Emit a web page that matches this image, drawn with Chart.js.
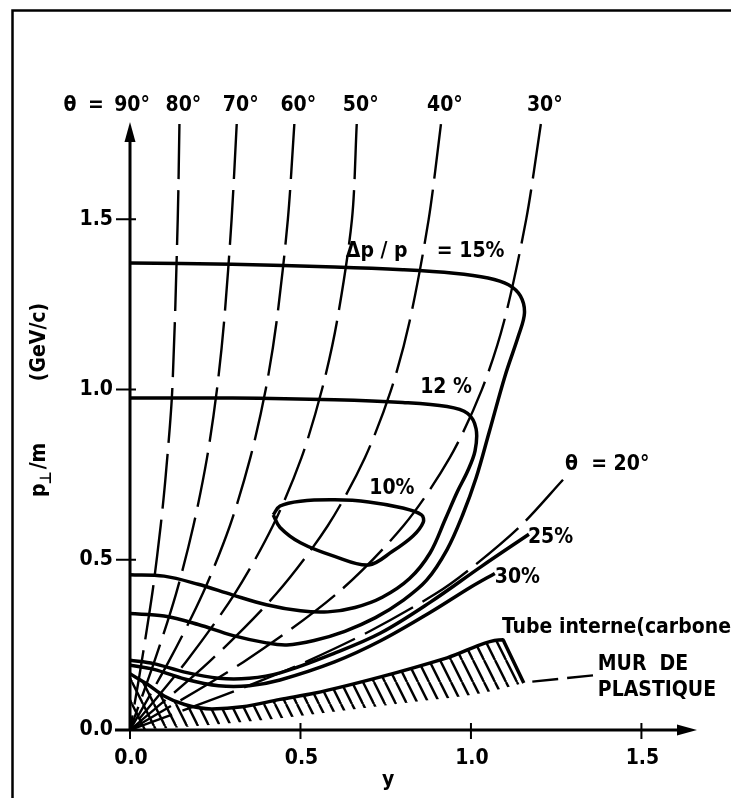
<!DOCTYPE html>
<html>
<head>
<meta charset="utf-8">
<script src="https://cdn.jsdelivr.net/npm/chart.js@4/dist/chart.umd.min.js"></script>
<style>
  html, body { margin: 0; padding: 0; background: #fff; }
  canvas { display: block; }
</style>
</head>
<body>
<canvas id="chart" width="731" height="798"></canvas>
<script>
// axis ticks
const xTicks = [0, 0.5, 1.0, 1.5];
const yTicks = [0, 0.5, 1.0, 1.5];
const tickLabels = ['0.0', '0.5', '1.0', '1.5'];

// lines of constant polar angle, [y, pT/m]
const thetaNames = ['80°', '70°', '60°', '50°', '40°', '30°'];
const theta80 = [[0.145,1.78],[0.14,1.5],[0.124,1.0],[0.105,0.75],[0.09,0.6],[0.068,0.42],[0.05,0.3],[0.026,0.15],[0,0]];
const theta70 = [[0.313,1.78],[0.298,1.5],[0.276,1.2],[0.255,1.0],[0.226,0.8],[0.186,0.6],[0.135,0.4],[0.071,0.2],[0,0]];
const theta60 = [[0.482,1.78],[0.463,1.5],[0.43,1.2],[0.398,1.0],[0.353,0.8],[0.293,0.6],[0.213,0.4],[0.113,0.2],[0,0]];
const theta50 = [[0.665,1.78],[0.651,1.5],[0.607,1.2],[0.563,1.0],[0.503,0.8],[0.419,0.6],[0.307,0.4],[0.164,0.2],[0,0]];
const theta40 = [[0.912,1.78],[0.876,1.5],[0.82,1.2],[0.766,1.0],[0.689,0.8],[0.58,0.6],[0.429,0.4],[0.232,0.2],[0,0]];
const theta30 = [[1.205,1.78],[1.162,1.5],[1.097,1.2],[1.032,1.0],[0.938,0.8],[0.802,0.6],[0.606,0.4],[0.333,0.2],[0,0]];
const theta20 = [[1.27,0.735],[1.146,0.6],[1.0,0.475],[0.896,0.4],[0.703,0.29],[0.516,0.2],[0.397,0.15],[0.27,0.1],[0,0]];

// momentum resolution contours dp/p
const res15 = [[0,1.372],[0.3,1.368],[0.6,1.36],[0.8,1.352],[0.95,1.342],[1.05,1.328],[1.11,1.308],[1.145,1.275],[1.157,1.225],[1.14,1.16],[1.1,1.04],[1.053,0.873],[1.015,0.74],[0.975,0.63],[0.93,0.53],[0.87,0.44],[0.8,0.38],[0.72,0.33],[0.63,0.29],[0.54,0.263],[0.46,0.25],[0.4,0.256],[0.3,0.278],[0.2,0.31],[0.1,0.335],[0,0.342]];
const res12 = [[0,0.975],[0.3,0.975],[0.6,0.97],[0.8,0.962],[0.93,0.95],[0.99,0.93],[1.015,0.885],[1.012,0.82],[0.99,0.76],[0.96,0.7],[0.925,0.62],[0.88,0.52],[0.82,0.445],[0.74,0.39],[0.66,0.36],[0.58,0.347],[0.5,0.35],[0.4,0.368],[0.3,0.397],[0.2,0.428],[0.1,0.452],[0,0.456]];
const res10 = [[0.42,0.632],[0.44,0.658],[0.5,0.672],[0.6,0.676],[0.7,0.67],[0.8,0.652],[0.855,0.632],[0.86,0.61],[0.83,0.57],[0.77,0.525],[0.7,0.485],[0.6,0.51],[0.5,0.55],[0.44,0.595],[0.42,0.632]];
const res25 = [[0,0.205],[0.07,0.195],[0.16,0.17],[0.26,0.152],[0.35,0.152],[0.44,0.168],[0.6,0.226],[0.735,0.285],[0.88,0.375],[1.03,0.48],[1.17,0.575]];
const res30 = [[0,0.19],[0.07,0.178],[0.16,0.15],[0.26,0.13],[0.35,0.13],[0.44,0.147],[0.6,0.2],[0.735,0.262],[0.88,0.345],[1.0,0.42],[1.07,0.46]];

// inner carbon tube limit (hatched band) and plastic wall pointer
const tubeTop = [[0,0.165],[0.05,0.135],[0.1,0.1],[0.16,0.075],[0.24,0.062],[0.33,0.068],[0.44,0.09],[0.54,0.108],[0.735,0.156],[0.93,0.212],[1.094,0.265],[1.098,0.257],[1.155,0.138]];
const tubeBottom = [[0,0],[0.2,0.012],[0.4,0.03],[0.64,0.059],[0.83,0.082],[1.03,0.108],[1.155,0.138]];
const murLeader = [[1.18,0.142],[1.373,0.162]];

const FONT = '"DejaVu Sans Condensed", "Liberation Sans Narrow", "DejaVu Sans", sans-serif';
const pts = arr => arr.map(p => ({x: p[0], y: p[1]}));

function hatchPattern() {
  const w = 11, h = 22;
  const c = document.createElement('canvas');
  c.width = w; c.height = h;
  const g = c.getContext('2d');
  g.strokeStyle = '#000';
  g.lineWidth = 2.4;
  for (const off of [-w, 0, w]) {
    g.beginPath();
    g.moveTo(off, 0);
    g.lineTo(off + w, h);
    g.stroke();
  }
  return g.createPattern(c, 'repeat');
}

const solid = (data, extra) => Object.assign({
  data: pts(data), borderColor: '#000', borderWidth: 3.5, tension: 0.35,
  pointRadius: 0, fill: false
}, extra || {});
const dashed = data => solid(data, {borderWidth: 2.4, borderDash: [55, 11], tension: 0.3});

const datasets = [
  solid(tubeTop, {fill: '+1', backgroundColor: hatchPattern(), cubicInterpolationMode: 'monotone'}),
  solid(tubeBottom, {borderWidth: 0, cubicInterpolationMode: 'monotone'}),
  dashed(theta80), dashed(theta70), dashed(theta60), dashed(theta50),
  dashed(theta40), dashed(theta30), dashed(theta20),
  solid(murLeader, {borderWidth: 2.4, borderDash: [26, 9], tension: 0}),
  solid(res15), solid(res12), solid(res10),
  solid(res25), solid(res30)
];

const thetaTops = [theta80, theta70, theta60, theta50, theta40, theta30];

const decor = {
  id: 'decor',
  beforeDraw(chart) {
    const ctx = chart.ctx;
    ctx.save();
    ctx.fillStyle = '#fff';
    ctx.fillRect(0, 0, chart.width, chart.height);
    ctx.restore();
  },
  afterDatasetsDraw(chart) {
    const ctx = chart.ctx;
    const sx = chart.scales.x, sy = chart.scales.y;
    const X = v => sx.getPixelForValue(v), Y = v => sy.getPixelForValue(v);
    const x0 = X(0), y0 = Y(0);
    const xEnd = chart.chartArea.right, yEnd = chart.chartArea.top;

    ctx.save();
    ctx.strokeStyle = '#000';
    ctx.fillStyle = '#000';
    ctx.lineCap = 'butt';

    // frame
    ctx.lineWidth = 2.5;
    ctx.beginPath();
    ctx.moveTo(12.5, chart.height);
    ctx.lineTo(12.5, 10.5);
    ctx.lineTo(chart.width, 10.5);
    ctx.stroke();

    // axes with arrows
    ctx.lineWidth = 3;
    ctx.beginPath();
    ctx.moveTo(x0, y0);
    ctx.lineTo(x0, yEnd + 14);
    ctx.moveTo(x0 - 15, y0);
    ctx.lineTo(xEnd - 16, y0);
    ctx.stroke();
    ctx.beginPath();
    ctx.moveTo(x0, yEnd);
    ctx.lineTo(x0 - 5.5, yEnd + 20);
    ctx.lineTo(x0 + 5.5, yEnd + 20);
    ctx.closePath();
    ctx.fill();
    ctx.beginPath();
    ctx.moveTo(xEnd, y0);
    ctx.lineTo(xEnd - 20, y0 - 5.5);
    ctx.lineTo(xEnd - 20, y0 + 5.5);
    ctx.closePath();
    ctx.fill();

    // ticks
    ctx.lineWidth = 2;
    ctx.beginPath();
    yTicks.forEach(v => { ctx.moveTo(x0 - 14, Y(v)); ctx.lineTo(x0 + 6, Y(v)); });
    xTicks.forEach(v => { ctx.moveTo(X(v), y0 - 7); ctx.lineTo(X(v), y0 + 9); });
    ctx.stroke();

    const F = 'bold 21px ' + FONT;
    ctx.font = F;
    ctx.textBaseline = 'middle';
    const txt = (s, x, y, align) => { ctx.textAlign = align || 'left'; ctx.fillText(s, x, y); };

    yTicks.forEach((v, i) => txt(tickLabels[i], x0 - 17, Y(v), 'right'));
    xTicks.forEach((v, i) => txt(tickLabels[i], X(v) + 1, y0 + 29, 'center'));
    txt('y', X(0.757), y0 + 51, 'center');

    // theta labels along the top
    const ty = Y(1.833);
    txt('θ', x0 - 60, ty, 'center');
    txt('=', x0 - 34, ty, 'center');
    txt('90°', x0 + 2, ty, 'center');
    thetaTops.forEach((t, i) => txt(thetaNames[i], X(t[0][0]) + 4, ty, 'center'));

    // contour labels
    txt('Δp / p', X(0.633), Y(1.404));
    txt('= 15%', X(0.9), Y(1.404));
    txt('12 %', X(0.927), Y(1.007), 'center');
    txt('10%', X(0.768), Y(0.708), 'center');
    txt('θ  = 20°', X(1.276), Y(0.781));
    txt('25%', X(1.167), Y(0.564));
    txt('30%', X(1.07), Y(0.449));
    txt('Tube interne(carbone)', X(1.091), Y(0.302));
    txt('MUR  DE', X(1.372), Y(0.191));
    txt('PLASTIQUE', X(1.372), Y(0.117));

    // vertical axis title
    ctx.translate(40, 0);
    ctx.rotate(-Math.PI / 2);
    ctx.textAlign = 'left';
    const py = -497;
    ctx.fillText('p', py, 0);
    const wp = ctx.measureText('p').width;
    ctx.font = 'bold 16px ' + FONT;
    ctx.fillText('⊥', py + wp - 1, 7);
    const ws = ctx.measureText('⊥').width;
    ctx.font = F;
    ctx.fillText('/m', py + wp + ws + 1, 0);
    ctx.textAlign = 'center';
    ctx.fillText('(GeV/c)', -342, 0);
    ctx.restore();
  }
};

new Chart(document.getElementById('chart'), {
  type: 'line',
  data: { datasets },
  options: {
    responsive: false,
    animation: false,
    devicePixelRatio: 1,
    layout: { autoPadding: false, padding: { left: 130, right: 34, top: 122, bottom: 68 } },
    plugins: { legend: { display: false }, tooltip: { enabled: false } },
    scales: {
      x: { type: 'linear', min: 0, max: 1.663, display: false },
      y: { type: 'linear', min: 0, max: 1.786, display: false }
    }
  },
  plugins: [decor]
});
</script>
</body>
</html>
